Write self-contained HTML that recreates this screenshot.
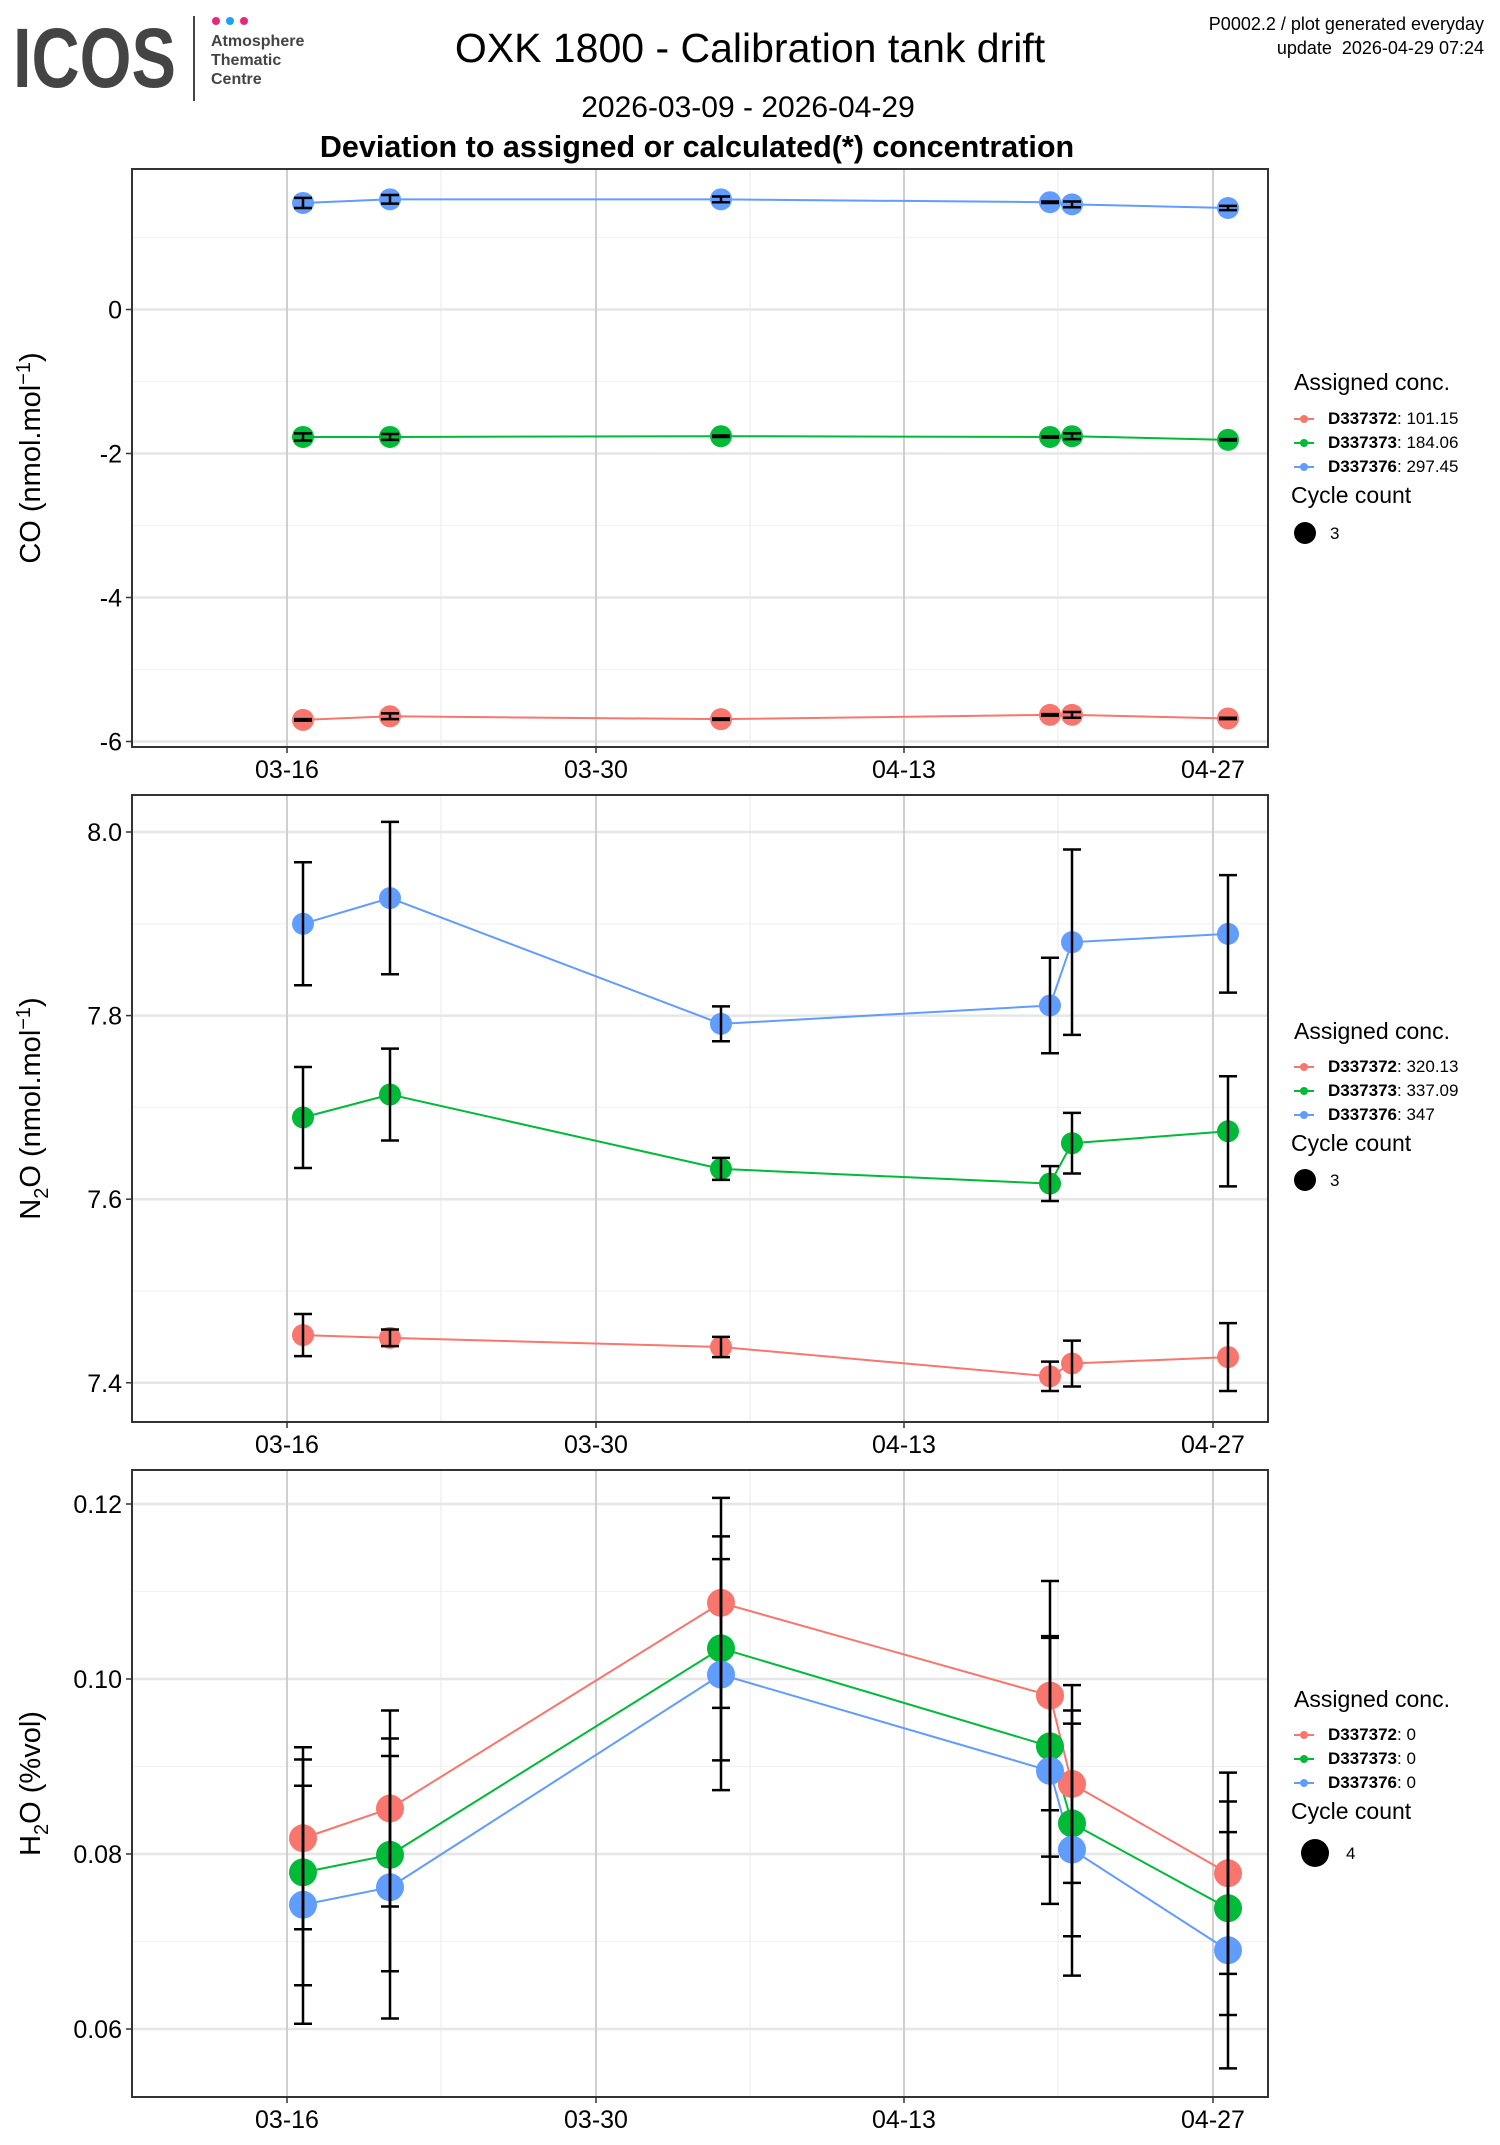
<!DOCTYPE html>
<html><head><meta charset="utf-8"><style>
html,body{margin:0;padding:0;background:#fff;}
svg{display:block;font-family:"Liberation Sans",Arial,sans-serif;}
</style></head><body>
<svg id="s" width="1500" height="2145" viewBox="0 0 1500 2145" xmlns="http://www.w3.org/2000/svg">
<rect width="1500" height="2145" fill="#fff"/>
<text x="13" y="87" font-size="84" font-weight="bold" fill="#444" textLength="163" lengthAdjust="spacingAndGlyphs">ICOS</text>
<line x1="194" y1="16" x2="194" y2="101" stroke="#444" stroke-width="2"/>
<circle cx="216" cy="21" r="4" fill="#e6287b"/><circle cx="230" cy="21" r="4" fill="#1da1f2"/><circle cx="244" cy="21" r="4" fill="#e6287b"/>
<text x="211" y="46" font-size="16" font-weight="bold" fill="#444">Atmosphere</text>
<text x="211" y="65" font-size="16" font-weight="bold" fill="#444">Thematic</text>
<text x="211" y="84" font-size="16" font-weight="bold" fill="#444">Centre</text>
<text x="750" y="62" font-size="41" text-anchor="middle">OXK 1800 - Calibration tank drift</text>
<text x="748" y="117" font-size="30" text-anchor="middle">2026-03-09 - 2026-04-29</text>
<text x="697" y="157" font-size="30.5" font-weight="bold" text-anchor="middle">Deviation to assigned or calculated(*) concentration</text>
<text x="1484" y="30" font-size="18" text-anchor="end">P0002.2 / plot generated everyday</text>
<text x="1484" y="54" font-size="18" text-anchor="end" xml:space="preserve">update  2026-04-29 07:24</text>
<g id="g"></g>
</svg>
<script>
var G=document.getElementById('g'),h='';
var X0=132,X1=1268,XS=[303,390,721,1050,1072,1228];
var C=['#F8766D','#00BA38','#619CFF'];
function panel(p){
 var y=p.y;
 p.minY.forEach(function(v){h+='<line x1="'+X0+'" x2="'+X1+'" y1="'+y(v)+'" y2="'+y(v)+'" stroke="#f2f2f2" stroke-width="1.2"/>';});
 [441,750,1058].forEach(function(x){h+='<line x1="'+x+'" x2="'+x+'" y1="'+p.top+'" y2="'+p.bot+'" stroke="#ededed" stroke-width="1.2"/>';});
 p.majY.forEach(function(v){h+='<line x1="'+X0+'" x2="'+X1+'" y1="'+y(v)+'" y2="'+y(v)+'" stroke="#e6e6e6" stroke-width="2.5"/>';
  h+='<line x1="'+(X0-6)+'" x2="'+X0+'" y1="'+y(v)+'" y2="'+y(v)+'" stroke="#333" stroke-width="1.5"/>';
  h+='<text x="'+(X0-10)+'" y="'+(y(v)+9)+'" font-size="25" text-anchor="end">'+p.lab(v)+'</text>';});
 [[287,'03-16'],[596,'03-30'],[904,'04-13'],[1213,'04-27']].forEach(function(t){
  h+='<line x1="'+t[0]+'" x2="'+t[0]+'" y1="'+p.top+'" y2="'+p.bot+'" stroke="#cfcfcf" stroke-width="2"/>';
  h+='<line x1="'+t[0]+'" x2="'+t[0]+'" y1="'+p.bot+'" y2="'+(p.bot+6)+'" stroke="#333" stroke-width="1.5"/>';
  h+='<text x="'+t[0]+'" y="'+(p.bot+31)+'" font-size="25" text-anchor="middle">'+t[1]+'</text>';});
 p.s.forEach(function(s,i){
  var pts=s.v.map(function(v,j){return XS[j]+','+y(v);}).join(' ');
  h+='<polyline points="'+pts+'" fill="none" stroke="'+C[i]+'" stroke-width="2"/>';
 });
 p.s.forEach(function(s,i){
  s.v.forEach(function(v,j){h+='<circle cx="'+XS[j]+'" cy="'+y(v)+'" r="'+p.r+'" fill="'+C[i]+'"/>';});
 });
 p.s.forEach(function(s,i){
  s.v.forEach(function(v,j){var e=s.e[j],a=y(v-e),b=y(v+e),x=XS[j];
   h+='<line x1="'+x+'" x2="'+x+'" y1="'+a+'" y2="'+b+'" stroke="#000" stroke-width="2.5"/>';
   h+='<line x1="'+(x-9)+'" x2="'+(x+9)+'" y1="'+a+'" y2="'+a+'" stroke="#000" stroke-width="2.5"/>';
   h+='<line x1="'+(x-9)+'" x2="'+(x+9)+'" y1="'+b+'" y2="'+b+'" stroke="#000" stroke-width="2.5"/>';});
 });
 h+='<rect x="'+X0+'" y="'+p.top+'" width="'+(X1-X0)+'" height="'+(p.bot-p.top)+'" fill="none" stroke="#333" stroke-width="2"/>';
 var cy=(p.top+p.bot)/2;
 h+='<text transform="translate(40,'+cy+') rotate(-90)" font-size="29" text-anchor="middle">'+p.title+'</text>';
 var L=p.leg;
 h+='<text x="1294" y="'+L[0]+'" font-size="23">Assigned conc.</text>';
 for(var i=0;i<3;i++){var yy=L[1]+i*24;
  h+='<line x1="1294" x2="1314" y1="'+(yy-5)+'" y2="'+(yy-5)+'" stroke="'+C[i]+'" stroke-width="2"/><circle cx="1304" cy="'+(yy-5)+'" r="4" fill="'+C[i]+'"/>';
  h+='<text x="1328" y="'+yy+'" font-size="17"><tspan font-weight="bold">'+p.ids[i][0]+'</tspan>: '+p.ids[i][1]+'</text>';}
 h+='<text x="1291" y="'+L[2]+'" font-size="23">Cycle count</text>';
 h+='<circle cx="'+(p.r>12?1315:1305)+'" cy="'+L[3]+'" r="'+(p.r>12?14:11)+'" fill="#000"/>';
 h+='<text x="'+(p.r>12?1346:1330)+'" y="'+(L[3]+6)+'" font-size="17">'+p.cc+'</text>';
}
panel({top:169,bot:747,y:function(v){return 309.5-72*v;},majY:[0,-2,-4,-6],minY:[1,-1,-3,-5],lab:function(v){return v;},r:11,
 title:'CO (nmol.mol<tspan dy="-10" font-size="20">−1</tspan><tspan dy="10">)</tspan>',
 s:[{v:[-5.70,-5.65,-5.69,-5.63,-5.63,-5.68],e:[0.01,0.04,0.01,0.01,0.04,0.01]},
    {v:[-1.77,-1.77,-1.76,-1.77,-1.76,-1.81],e:[0.05,0.04,0.01,0.01,0.04,0.01]},
    {v:[1.48,1.53,1.53,1.49,1.46,1.41],e:[0.07,0.06,0.04,0.01,0.04,0.03]}],
 ids:[['D337372','101.15'],['D337373','184.06'],['D337376','297.45']],cc:'3',leg:[390,424,503,533]});
panel({top:795,bot:1422,y:function(v){return 832+(8-v)*918;},majY:[8.0,7.8,7.6,7.4],minY:[7.9,7.7,7.5],lab:function(v){return v.toFixed(1);},r:11,
 title:'N<tspan dy="8" font-size="20">2</tspan><tspan dy="-8">O (nmol.mol</tspan><tspan dy="-10" font-size="20">−1</tspan><tspan dy="10">)</tspan>',
 s:[{v:[7.452,7.449,7.439,7.407,7.421,7.428],e:[0.023,0.009,0.011,0.016,0.025,0.037]},
    {v:[7.689,7.714,7.633,7.617,7.661,7.674],e:[0.055,0.05,0.012,0.019,0.033,0.06]},
    {v:[7.90,7.928,7.791,7.811,7.88,7.889],e:[0.067,0.083,0.019,0.052,0.101,0.064]}],
 ids:[['D337372','320.13'],['D337373','337.09'],['D337376','347']],cc:'3',leg:[1039,1072,1151,1180]});
panel({top:1470,bot:2097,y:function(v){return 1504+(0.12-v)*8750;},majY:[0.12,0.10,0.08,0.06],minY:[0.11,0.09,0.07],lab:function(v){return v.toFixed(2);},r:14,
 title:'H<tspan dy="8" font-size="20">2</tspan><tspan dy="-8">O (%vol)</tspan>',
 s:[{v:[0.0818,0.0852,0.1087,0.0981,0.0880,0.0778],e:[0.0104,0.0112,0.012,0.0131,0.0113,0.0115]},
    {v:[0.0779,0.0799,0.1035,0.0923,0.0835,0.0738],e:[0.0129,0.0133,0.0128,0.0126,0.0129,0.0122]},
    {v:[0.0742,0.0762,0.1005,0.0895,0.0805,0.0690],e:[0.0136,0.015,0.0132,0.0152,0.0144,0.0135]}],
 ids:[['D337372','0'],['D337373','0'],['D337376','0']],cc:'4',leg:[1707,1740,1819,1853]});
G.innerHTML=h;
</script>
</body></html>
